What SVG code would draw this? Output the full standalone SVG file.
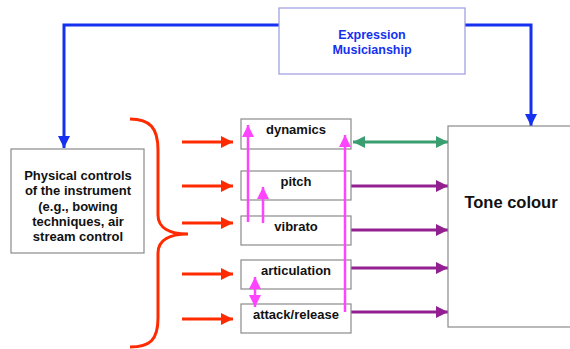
<svg xmlns="http://www.w3.org/2000/svg" width="570" height="349" viewBox="0 0 570 349">
<style>
.box{fill:#fff;stroke:#8a8a8a;stroke-width:1.2}
.t{font-family:"Liberation Sans",Arial,sans-serif;font-weight:bold;font-size:13px;fill:#111;text-anchor:middle}
.blue{stroke:#1530f0;stroke-width:3;fill:none}
.red{stroke:#ff2a00;stroke-width:3;fill:none}
.mag{stroke:#ff44ff;stroke-width:2.5;fill:none}
.pur{stroke:#932090;stroke-width:3;fill:none}
.grn{stroke:#3a9e70;stroke-width:3;fill:none}
</style>
<defs>
<marker id="ab" markerUnits="userSpaceOnUse" markerWidth="14" markerHeight="14" refX="12" refY="6" orient="auto"><path d="M0,0 L12,6 L0,12 z" fill="#1530f0"/></marker>
<marker id="ar" markerUnits="userSpaceOnUse" markerWidth="14" markerHeight="14" refX="12" refY="6" orient="auto"><path d="M0,0 L12,6 L0,12 z" fill="#ff2a00"/></marker>
<marker id="am" markerUnits="userSpaceOnUse" markerWidth="14" markerHeight="14" refX="12" refY="6" orient="auto-start-reverse"><path d="M0,0 L12,6 L0,12 z" fill="#ff44ff"/></marker>
<marker id="ap" markerUnits="userSpaceOnUse" markerWidth="14" markerHeight="14" refX="12" refY="6" orient="auto"><path d="M0,0 L12,6 L0,12 z" fill="#932090"/></marker>
<marker id="ag" markerUnits="userSpaceOnUse" markerWidth="14" markerHeight="14" refX="12" refY="6" orient="auto-start-reverse"><path d="M0,0 L12,6 L0,12 z" fill="#3a9e70"/></marker>
</defs>
<g id="connectors">
<path class="blue" d="M279,25 H64 V148" marker-end="url(#ab)"/>
<path class="blue" d="M465,25 H531 V126" marker-end="url(#ab)"/>
<path class="red" stroke-width="3.5" d="M130,119 C150,119 158,128 158,150 V215 C158,228 170,234 188,234 C170,234 158,240 158,253 V318 C158,340 150,347 130,347"/>
<path class="red" d="M182,142 H233" marker-end="url(#ar)"/>
<path class="red" d="M182,186 H233" marker-end="url(#ar)"/>
<path class="red" d="M182,223 H233" marker-end="url(#ar)"/>
<path class="red" d="M182,274 H233" marker-end="url(#ar)"/>
<path class="red" d="M182,319 H233" marker-end="url(#ar)"/>
<path class="grn" d="M353,142 H448" marker-start="url(#ag)" marker-end="url(#ag)"/>
<path class="pur" d="M351,186 H448" marker-end="url(#ap)"/>
<path class="pur" d="M351,230 H448" marker-end="url(#ap)"/>
<path class="pur" d="M351,268 H448" marker-end="url(#ap)"/>
<path class="pur" d="M351,312 H448" marker-end="url(#ap)"/>
</g>
<g id="expression"><rect x="279" y="8" width="186" height="66" fill="#fff" stroke="#9a9ae0" stroke-width="1.2"/>
<text class="t" x="372" y="39" style="fill:#1530f0;font-size:12.5px">Expression</text><text class="t" x="372" y="54" style="fill:#1530f0;font-size:12.5px">Musicianship</text></g>
<g id="physical"><rect class="box" x="11" y="149" width="133" height="104"/>
<text class="t" x="78" y="180">Physical controls</text><text class="t" x="78" y="195">of the instrument</text><text class="t" x="78" y="211">(e.g., bowing</text><text class="t" x="78" y="226">techniques, air</text><text class="t" x="78" y="241">stream control</text></g>
<g id="dynamics"><rect class="box" x="241" y="119" width="110" height="30"/><text class="t" x="296" y="134">dynamics</text></g>
<g id="pitch"><rect class="box" x="241" y="171" width="110" height="29"/><text class="t" x="296" y="186">pitch</text></g>
<g id="vibrato"><rect class="box" x="241" y="216" width="110" height="29"/><text class="t" x="296" y="231">vibrato</text></g>
<g id="articulation"><rect class="box" x="241" y="260" width="110" height="29"/><text class="t" x="296" y="275">articulation</text></g>
<g id="attack"><rect class="box" x="241" y="304" width="110" height="29"/><text class="t" x="296" y="319">attack/release</text></g>
<g id="tone"><rect class="box" x="448" y="126" width="130" height="201"/><text class="t" x="511" y="208" style="font-size:16.5px">Tone colour</text></g>
<g id="internal">
<path class="mag" d="M248,222 V125" marker-end="url(#am)"/>
<path class="mag" d="M263,223 V187" marker-end="url(#am)"/>
<path class="mag" d="M255,277 V307" marker-start="url(#am)" marker-end="url(#am)"/>
<path class="mag" d="M345,312 V135" marker-end="url(#am)"/>
</g>
</svg>
